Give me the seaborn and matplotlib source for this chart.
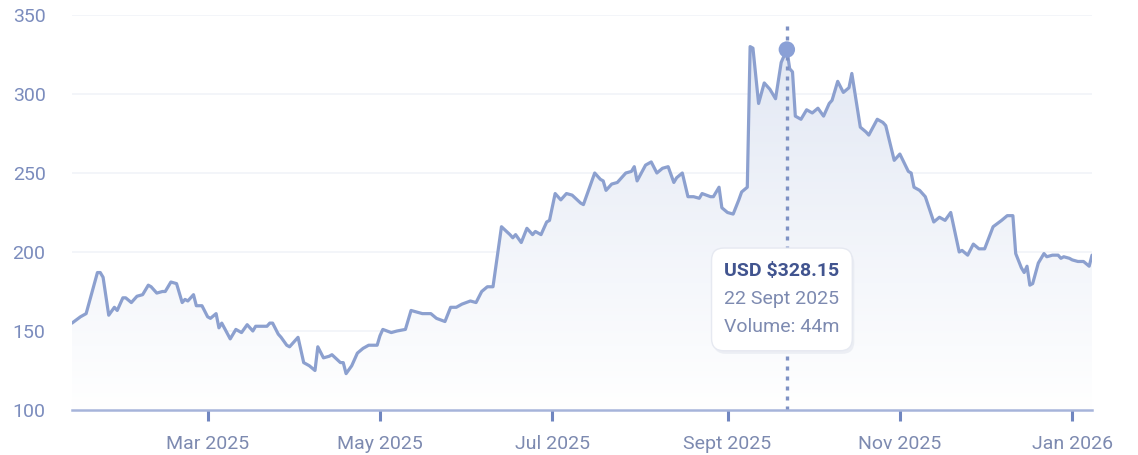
import numpy as np
import pandas as pd
import matplotlib
matplotlib.use("Agg")
import matplotlib.pyplot as plt
import matplotlib.dates as mdates
from matplotlib.patches import FancyBboxPatch
import seaborn as sns

# Daily closing prices (USD)
dates = [
    "2025-01-12", "2025-01-15", "2025-01-17", "2025-01-19", "2025-01-21", "2025-01-22",
    "2025-01-23", "2025-01-25", "2025-01-27", "2025-01-28", "2025-01-30", "2025-01-31",
    "2025-02-02", "2025-02-04", "2025-02-06", "2025-02-08", "2025-02-09", "2025-02-11",
    "2025-02-13", "2025-02-14", "2025-02-16", "2025-02-18", "2025-02-20", "2025-02-21",
    "2025-02-22", "2025-02-24", "2025-02-25", "2025-02-27", "2025-03-01", "2025-03-02",
    "2025-03-04", "2025-03-05", "2025-03-06", "2025-03-09", "2025-03-11", "2025-03-13",
    "2025-03-15", "2025-03-17", "2025-03-18", "2025-03-22", "2025-03-23", "2025-03-24",
    "2025-03-26", "2025-03-27", "2025-03-29", "2025-03-30", "2025-04-02", "2025-04-04",
    "2025-04-06", "2025-04-08", "2025-04-09", "2025-04-11", "2025-04-13", "2025-04-14",
    "2025-04-17", "2025-04-18", "2025-04-19", "2025-04-21", "2025-04-23", "2025-04-25",
    "2025-04-27", "2025-04-30", "2025-05-01", "2025-05-02", "2025-05-05", "2025-05-07",
    "2025-05-10", "2025-05-12", "2025-05-14", "2025-05-16", "2025-05-19", "2025-05-21",
    "2025-05-24", "2025-05-26", "2025-05-28", "2025-05-30", "2025-06-02", "2025-06-04",
    "2025-06-06", "2025-06-08", "2025-06-10", "2025-06-13", "2025-06-16", "2025-06-17",
    "2025-06-18", "2025-06-20", "2025-06-22", "2025-06-24", "2025-06-25", "2025-06-27",
    "2025-06-29", "2025-06-30", "2025-07-02", "2025-07-04", "2025-07-06", "2025-07-08",
    "2025-07-11", "2025-07-12", "2025-07-16", "2025-07-18", "2025-07-19", "2025-07-20",
    "2025-07-22", "2025-07-24", "2025-07-27", "2025-07-29", "2025-07-30", "2025-07-31",
    "2025-08-03", "2025-08-05", "2025-08-07", "2025-08-09", "2025-08-11", "2025-08-13",
    "2025-08-14", "2025-08-16", "2025-08-18", "2025-08-20", "2025-08-22", "2025-08-23",
    "2025-08-26", "2025-08-27", "2025-08-29", "2025-08-30", "2025-09-01", "2025-09-03",
    "2025-09-05", "2025-09-06", "2025-09-08", "2025-09-09", "2025-09-10", "2025-09-12",
    "2025-09-14", "2025-09-16", "2025-09-18", "2025-09-20", "2025-09-22", "2025-09-23",
    "2025-09-24", "2025-09-25", "2025-09-27", "2025-09-29", "2025-10-01", "2025-10-03",
    "2025-10-05", "2025-10-07", "2025-10-08", "2025-10-10", "2025-10-12", "2025-10-14",
    "2025-10-15", "2025-10-18", "2025-10-20", "2025-10-21", "2025-10-24", "2025-10-26",
    "2025-10-27", "2025-10-30", "2025-11-01", "2025-11-04", "2025-11-05", "2025-11-06",
    "2025-11-08", "2025-11-10", "2025-11-13", "2025-11-15", "2025-11-17", "2025-11-19",
    "2025-11-22", "2025-11-23", "2025-11-25", "2025-11-27", "2025-11-29", "2025-12-01",
    "2025-12-04", "2025-12-07", "2025-12-09", "2025-12-11", "2025-12-12", "2025-12-14",
    "2025-12-15", "2025-12-16", "2025-12-17", "2025-12-18", "2025-12-20", "2025-12-22",
    "2025-12-23", "2025-12-25", "2025-12-27", "2025-12-28", "2025-12-29", "2025-12-31",
    "2026-01-01", "2026-01-03", "2026-01-05", "2026-01-07", "2026-01-08",
]
prices = [
    155, 159, 161, 174, 187, 187,
    184, 160, 165, 163, 171, 171,
    168, 172, 173, 179, 178, 174,
    175, 175, 181, 180, 168, 170,
    169, 173, 166, 166, 159, 158,
    161, 152, 155, 145, 151, 149,
    154, 150, 153, 153, 155, 155,
    148, 146, 141, 140, 146, 130,
    128, 125, 140, 133, 134, 135,
    130, 130, 123, 128, 136, 139,
    141, 141, 147, 151, 149, 150,
    151, 163, 162, 161, 161, 158,
    156, 165, 165, 167, 169, 168,
    175, 178, 178, 216, 211, 209,
    211, 206, 215, 211, 213, 211,
    219, 220, 237, 233, 237, 236,
    231, 230, 250, 246, 245, 239,
    243, 244, 250, 251, 254, 245,
    255, 257, 250, 253, 254, 244,
    247, 250, 235, 235, 234, 237,
    235, 235, 241, 228, 225, 224,
    233, 238, 241, 330, 329, 294,
    307, 303, 297, 320, 328.15, 316,
    314, 286, 284, 290, 288, 291,
    286, 294, 296, 308, 301, 304,
    313, 279, 276, 274, 284, 282,
    280, 258, 262, 251, 250, 241,
    239, 235, 219, 222, 220, 225,
    200, 201, 198, 205, 202, 202,
    216, 220, 223, 223, 199, 190,
    187, 191, 179, 180, 193, 199,
    197, 198, 198, 196, 197, 196,
    195, 194, 194, 191, 198,
]

tick_dates = ["2025-03-01", "2025-05-01", "2025-07-01", "2025-09-01", "2025-11-01", "2026-01-01"]
tick_labels = ["Mar 2025", "May 2025", "Jul 2025", "Sept 2025", "Nov 2025", "Jan 2026"]
y_ticks = [100, 150, 200, 250, 300, 350]

highlight_date = "2025-09-22"
highlight_price = 328.15
tooltip_lines = ["USD $328.15", "22 Sept 2025", "Volume: 44m"]

LINE = "#8ca0cf"
TICK_TEXT = "#7b8cbd"
XTEXT = "#7d8ab0"

df = pd.DataFrame({"date": pd.to_datetime(dates), "price": prices})

sns.set_theme(style="white")
plt.rcParams["font.family"] = ["Roboto", "DejaVu Sans"]

fig = plt.figure(figsize=(11.38, 4.55), dpi=100)
ax = fig.add_axes([72 / 1138, 45 / 455, 1020 / 1138, 395 / 455])

# gridlines
for yv in y_ticks[1:]:
    ax.axhline(yv, color="#f1f3f8", lw=1.2, zorder=0)

# gradient area under the line
xnum = mdates.date2num(df["date"])
poly = ax.fill_between(df["date"], df["price"], 100, color="none", lw=0)
grad = np.linspace(0.0, 1.0, 256).reshape(-1, 1)
top_rgb = np.array([0.878, 0.902, 0.953])
bot_rgb = np.array([1.0, 1.0, 1.0])
img = (bot_rgb[None, :] * (1 - grad) + top_rgb[None, :] * grad)
img = img.reshape(256, 1, 3)
im = ax.imshow(img, extent=[xnum.min(), xnum.max(), 100, 350], origin="lower",
               aspect="auto", zorder=1, interpolation="bilinear")
path = poly.get_paths()[0]
im.set_clip_path(path, transform=ax.transData)

sns.lineplot(data=df, x="date", y="price", ax=ax, color=LINE, lw=2.3, zorder=3)

# hover marker and dotted guide
hd = pd.Timestamp(highlight_date)
ax.axvline(hd, ymin=0.0, ymax=0.982, color="#7f92c4", lw=2.4, ls=(0, (1.2, 1.8)), zorder=4)
ax.scatter([hd], [highlight_price], s=140, color="#8aa0d6", zorder=5, edgecolor="none")

ax.set_xlim(xnum.min(), xnum.max())
ax.set_ylim(100, 350)
ax.set_xlabel("")
ax.set_ylabel("")

ax.set_xticks(pd.to_datetime(tick_dates))
ax.set_xticklabels(tick_labels)
ax.set_yticks(y_ticks)
ax.set_yticklabels([str(v) for v in y_ticks])

ax.tick_params(axis="x", which="both", bottom=True, length=8, width=2.2,
               color="#7086c0", pad=10, labelsize=14, labelcolor=XTEXT)
ax.tick_params(axis="y", left=False, pad=13, labelsize=14, labelcolor=TICK_TEXT)

for s in ["top", "right", "left"]:
    ax.spines[s].set_visible(False)
ax.spines["bottom"].set_color("#a6b4da")
ax.spines["bottom"].set_linewidth(1.8)
ax.spines["bottom"].set_zorder(6)

# tooltip box
bx0, bx1 = 0.627, 0.765
by0, by1 = 0.150, 0.410
shadow = FancyBboxPatch((bx0 + 0.002, by0 - 0.008), bx1 - bx0, by1 - by0,
                        boxstyle="round,pad=0,rounding_size=0.012",
                        transform=ax.transAxes, facecolor="#dfe3ec", edgecolor="none",
                        alpha=0.5, zorder=7, mutation_aspect=2.6)
ax.add_patch(shadow)
box = FancyBboxPatch((bx0, by0), bx1 - bx0, by1 - by0,
                     boxstyle="round,pad=0,rounding_size=0.012",
                     transform=ax.transAxes, facecolor="white", edgecolor="#e6e9f1",
                     lw=1.0, zorder=8, mutation_aspect=2.6)
ax.add_patch(box)
ax.text(0.639, 0.352, tooltip_lines[0], transform=ax.transAxes, fontsize=14,
        fontweight="bold", color="#41548f", va="center", ha="left", zorder=9)
ax.text(0.639, 0.281, tooltip_lines[1], transform=ax.transAxes, fontsize=14,
        color="#7d8ab0", va="center", ha="left", zorder=9)
ax.text(0.639, 0.210, tooltip_lines[2], transform=ax.transAxes, fontsize=14,
        color="#7d8ab0", va="center", ha="left", zorder=9)

fig.savefig("out.png", dpi=100, facecolor="white")
